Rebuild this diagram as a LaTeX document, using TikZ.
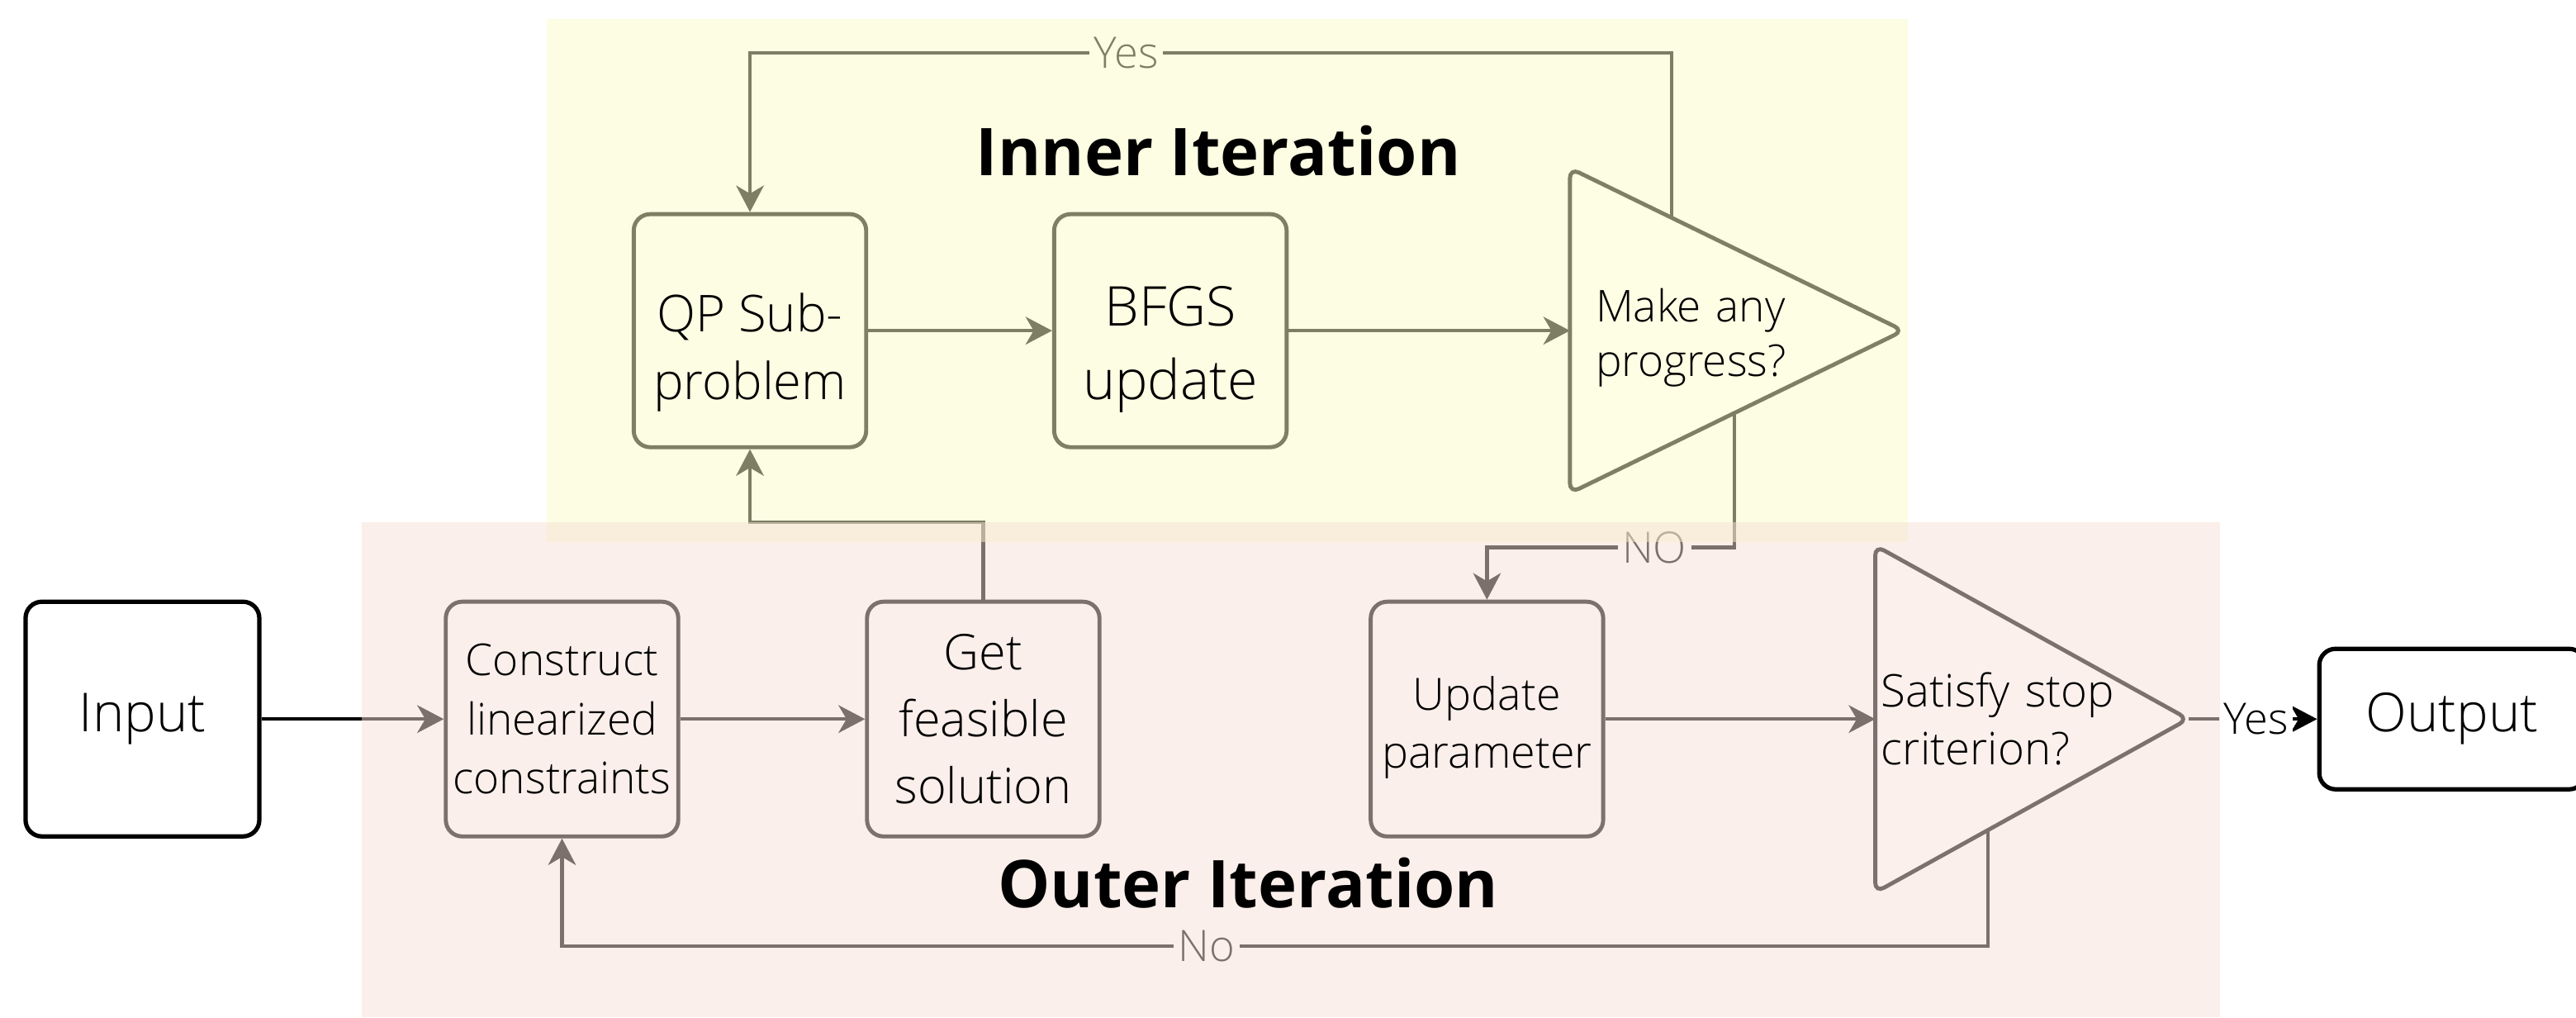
\documentclass[tikz,border=0pt]{standalone}
\usepackage{fontspec}
\IfFontExistsTF{Open Sans Light}
  {\setmainfont{Open Sans Light}[BoldFont={Open Sans Bold}]}
  {\setmainfont{Open Sans}}
\usetikzlibrary{arrows.meta}

\definecolor{yellowshade}{RGB}{253,253,200}
\definecolor{pinkshade}{RGB}{247,225,215}
\definecolor{yellowedge}{RGB}{127,127,100}
\definecolor{pinkedge}{RGB}{124,113,108}
\definecolor{yellowfill}{RGB}{254,254,228}
\definecolor{pinkfill}{RGB}{251,240,235}

\pgfdeclarelayer{wires}
\pgfdeclarelayer{shade}
\pgfdeclarelayer{shapes}
\pgfsetlayers{wires,shade,shapes,main}

\newcommand{\fs}[2]{\fontsize{#1}{#2}\selectfont}

\begin{document}
\begin{tikzpicture}[
  io/.style={draw=black, fill=white, line width=0.75pt, rounded corners=0.1cm,
             align=center, inner sep=0pt, minimum height=1.428cm, font=\fs{9.3}{12.4}},
  outerbox/.style={draw=pinkedge, line width=0.7pt, rounded corners=0.1cm, align=center,
             inner sep=0pt, minimum width=1.415cm, minimum height=1.428cm},
  innerbox/.style={draw=yellowedge, line width=0.7pt, rounded corners=0.1cm, align=center,
             inner sep=0pt, minimum width=1.415cm, minimum height=1.418cm},
  query/.style={align=left, inner ysep=0pt},
  tri/.style={line width=0.7pt, rounded corners=0.06cm},
  arr/.style={line width=0.6pt, -{Stealth[length=4.6pt, width=4.8pt, inset=1.4pt]}},
  lbl/.style={fill=white, inner sep=0.8pt, font=\fs{7.5}{9}},
  title/.style={font=\bfseries\fs{11.4}{14}}
]
  \useasboundingbox (0,0) rectangle (15.68,6.19);

  % inner loop
  \node[innerbox, text height=26pt, font=\fs{8.8}{11.7}] (qp) at (4.565,4.178) {QP Sub-\\problem};
  \node[innerbox, text height=26.2pt, font=\fs{9.5}{12.8}] (bfgs) at (7.124,4.178) {BFGS\\update};
  \node[query, text height=8.3pt, minimum width=2.016cm, minimum height=1.963cm, text width=1.716cm,
        inner xsep=0.15cm, font=\fs{7.6}{9.4}] (prog) at (10.571,4.178) {Make any\\progress?};
  \node[title] (innertitle) at (7.416,5.274) {Inner Iteration};

  % outer loop
  \node[io, minimum width=1.423cm] (input) at (0.867,1.815) {Input};
  \node[outerbox, font=\fs{7.6}{10.2}] (cons) at (3.421,1.815) {Construct\\linearized\\constraints};
  \node[outerbox, font=\fs{8.5}{11.6}] (feas) at (5.985,1.815) {Get\\feasible\\solution};
  \node[outerbox, text height=18.7pt, font=\fs{7.7}{10}] (upd) at (9.051,1.815) {Update\\parameter};
  \node[query, minimum width=1.891cm, minimum height=2.097cm, text width=1.831cm,
        inner xsep=0.03cm, font=\fs{7.8}{10}] (stop) at (12.367,1.815) {Satisfy stop\\criterion?};
  \node[io, minimum width=1.62cm, minimum height=0.855cm] (out) at (14.927,1.815) {Output};
  \node[title] (outertitle) at (7.597,0.820) {Outer Iteration};

  \coordinate (fq) at (5.985,3.012);
  \coordinate (ytop) at (10.176,5.867);
  \coordinate (nbend) at (10.558,2.859);
  \coordinate (nloop) at (12.100,0.432);

  \begin{pgfonlayer}{shapes}
    \draw[tri, draw=yellowedge, fill=yellowfill] (prog.north west) -- (prog.east) -- (prog.south west) -- cycle;
    \draw[tri, draw=pinkedge, fill=pinkfill] (stop.north west) -- (stop.east) -- (stop.south west) -- cycle;
  \end{pgfonlayer}

  \begin{pgfonlayer}{shade}
    \fill[yellowshade, fill opacity=0.5] (3.328,2.891) rectangle (11.614,6.074);
    \fill[pinkshade, fill opacity=0.5] (2.202,0) rectangle (13.514,3.012);
  \end{pgfonlayer}

  \begin{pgfonlayer}{wires}
    \fill[white] (0,0) rectangle (15.68,6.19);
    \draw[arr] (input) -- (cons);
    \draw[arr] (cons) -- (feas);
    \draw[arr] (feas.north) -- (fq) -| (qp.south);
    \draw[arr] (qp) -- (bfgs);
    \draw[arr] (bfgs) -- (prog);
    \draw[arr] (prog.center -| ytop) -- (ytop) -- node[lbl, pos=0.592] {Yes} (ytop -| qp.north) -- (qp.north);
    \draw[arr] (prog.center -| nbend) -- (nbend) -- node[lbl, pos=0.324] {NO} (nbend -| upd.north) -- (upd.north);
    \draw[arr] (upd) -- (stop);
    \draw[arr] (stop.center -| nloop) -- (nloop) -- node[lbl, pos=0.548] {No} (nloop -| cons.south) -- (cons.south);
    \draw[arr] (stop.east) -- node[lbl, pos=0.525] {Yes} (out);
  \end{pgfonlayer}
\end{tikzpicture}
\end{document}
